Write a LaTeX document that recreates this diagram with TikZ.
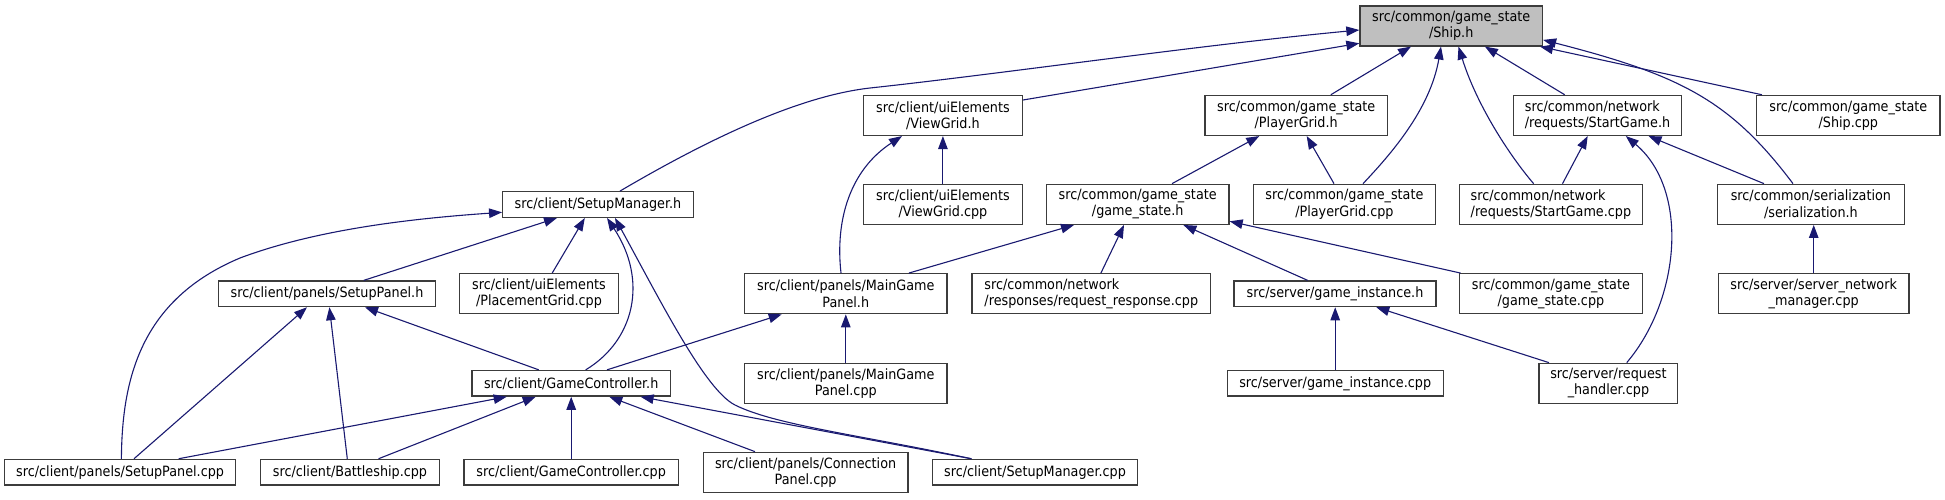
\documentclass[tikz,border=0pt]{standalone}
\usepackage{fontspec}
\setmainfont{DejaVu Sans}[FakeStretch=0.9]
\usetikzlibrary{arrows.meta}
\definecolor{edgec}{RGB}{25,25,112}
\definecolor{rootc}{RGB}{191,191,191}
\definecolor{borderc}{RGB}{60,60,60}
\begin{document}
\begin{tikzpicture}[x=1pt,y=-1pt,
  box/.style={draw=borderc, line width=1.3pt, fill=white, inner sep=0pt, align=center,
    font=\fontsize{14.2pt}{16.2pt}\selectfont},
  one/.style={minimum height=25.6pt},
  two/.style={minimum height=40pt},
  edge/.style={draw=edgec, line width=1.1pt, -{Triangle[length=13pt,width=9.5pt]}}]
\useasboundingbox (0,0) rectangle (1945,499);
% row 0
\node[box, two, fill=rootc, minimum width=182.5pt] (shiph) at (1451.2,25.9) {src/common/game\_state\\/Ship.h};
% row 1
\node[box, two, minimum width=158.9pt] (vgh) at (942.9,115.4) {src/client/uiElements\\/ViewGrid.h};
\node[box, two, minimum width=182.5pt] (pgh) at (1296.2,115.4) {src/common/game\_state\\/PlayerGrid.h};
\node[box, two, minimum width=167.5pt, align=left] (sgh) at (1597.5,115.4) {src/common/network\\/requests/StartGame.h};
\node[box, two, minimum width=183.4pt] (shipcpp) at (1848.3,115.4) {src/common/game\_state\\/Ship.cpp};
% row 2
\node[box, one, minimum width=190.6pt] (smh) at (598,204.5) {src/client/SetupManager.h};
\node[box, two, minimum width=158.9pt] (vgcpp) at (942.9,204.3) {src/client/uiElements\\/ViewGrid.cpp};
\node[box, two, minimum width=182.6pt] (gsh) at (1137.7,204.3) {src/common/game\_state\\/game\_state.h};
\node[box, two, minimum width=181.8pt] (pgcpp) at (1344.4,204.3) {src/common/game\_state\\/PlayerGrid.cpp};
\node[box, two, minimum width=182.6pt, align=left] (sgcpp) at (1550.9,204.3) {src/common/network\\/requests/StartGame.cpp};
\node[box, two, minimum width=186.6pt] (serh) at (1810.9,204.3) {src/common/serialization\\/serialization.h};
% row 3
\node[box, one, minimum width=216.5pt] (sph) at (327,293.8) {src/client/panels/SetupPanel.h};
\node[box, two, minimum width=158.5pt] (pgrcpp) at (539,293.7) {src/client/uiElements\\/PlacementGrid.cpp};
\node[box, two, minimum width=202.3pt] (mgph) at (845.8,293.7) {src/client/panels/MainGame\\Panel.h};
\node[box, two, minimum width=238.8pt, align=left] (rrcpp) at (1091.3,293.7) {src/common/network\\/responses/request\_response.cpp};
\node[box, one, minimum width=202.2pt] (gih) at (1335,293.8) {src/server/game\_instance.h};
\node[box, two, minimum width=182.6pt] (gscpp) at (1550.9,293.7) {src/common/game\_state\\/game\_state.cpp};
\node[box, two, minimum width=190.5pt] (sncpp) at (1813.7,293.7) {src/server/server\_network\\\_manager.cpp};
% row 4
\node[box, one, minimum width=198.7pt] (gch) at (571.2,383.3) {src/client/GameController.h};
\node[box, two, minimum width=202.3pt] (mgpcpp) at (845.8,383.3) {src/client/panels/MainGame\\Panel.cpp};
\node[box, one, minimum width=216pt] (gicpp) at (1335.2,383.3) {src/server/game\_instance.cpp};
\node[box, two, minimum width=138.7pt] (rhcpp) at (1608.4,383.3) {src/server/request\\\_handler.cpp};
% row 5
\node[box, one, minimum width=231.2pt] (spcpp) at (120.1,472.2) {src/client/panels/SetupPanel.cpp};
\node[box, one, minimum width=179.4pt] (bscpp) at (350,472.2) {src/client/Battleship.cpp};
\node[box, one, minimum width=214.7pt] (gccpp) at (571.2,472.2) {src/client/GameController.cpp};
\node[box, two, minimum width=204.9pt] (cpcpp) at (805.6,472.3) {src/client/panels/Connection\\Panel.cpp};
\node[box, one, minimum width=204.9pt] (smcpp) at (1035,472.2) {src/client/SetupManager.cpp};

% edges to Ship.h
\draw[edge] ([xshift=22pt]smh.north) .. controls (690,150) and (790,97) .. (870,88) .. controls (1000,74) and (1200,45) .. ([yshift=-4.1pt]shiph.west);
\draw[edge] ([yshift=15.4pt]vgh.east) -- ([yshift=-17.4pt]shiph.west);
\draw[edge] ([xshift=34.6pt]pgh.north) -- ([xshift=-40.2pt]shiph.south);
\draw[edge] ([xshift=18.6pt]pgcpp.north) .. controls (1390,155) and (1430,110) .. ([xshift=-10.2pt]shiph.south);
\draw[edge] ([xshift=-17.3pt]sgcpp.north) .. controls (1505,150) and (1475,100) .. ([xshift=7.3pt]shiph.south);
\draw[edge] ([xshift=-32.8pt]sgh.north) -- ([xshift=33.7pt]shiph.south);
\draw[edge] ([xshift=-17.9pt]serh.north) .. controls (1730,100) and (1680,75) .. ([yshift=-14pt]shiph.east);
\draw[edge] ([xshift=-86.4pt]shipcpp.north) -- ([xshift=88.8pt]shiph.south);
% ViewGrid.h
\draw[edge] (vgcpp.north) -- (vgh.south);
\draw[edge] ([xshift=-4.8pt]mgph.north) .. controls (835,220) and (850,170) .. ([xshift=-40.9pt]vgh.south);
% PlayerGrid.h
\draw[edge] ([xshift=34.3pt]gsh.north) -- ([xshift=-36.9pt]pgh.south);
\draw[edge] ([xshift=-10.4pt]pgcpp.north) -- ([xshift=10.5pt]pgh.south);
% StartGame.h
\draw[edge] ([xshift=11.6pt]sgcpp.north) -- ([xshift=-9.8pt]sgh.south);
\draw[edge] ([xshift=18.3pt]rhcpp.north) .. controls (1680,300) and (1690,190) .. ([xshift=28.3pt]sgh.south);
\draw[edge] ([xshift=-46.9pt]serh.north) -- ([xshift=51pt]sgh.south);
% serialization.h
\draw[edge] (sncpp.north) -- (sncpp.north |- serh.south);
% game_state.h
\draw[edge] ([xshift=63.1pt]mgph.north) -- ([xshift=-63.7pt]gsh.south);
\draw[edge] ([xshift=9.6pt]rrcpp.north) -- ([xshift=-13.7pt]gsh.south);
\draw[edge] ([xshift=-27.4pt]gih.north) -- ([xshift=45.7pt]gsh.south);
\draw[edge] ([xshift=-90.4pt]gscpp.north) -- ([yshift=-17pt]gsh.east);
% game_instance.h
\draw[edge] (gicpp.north) -- (gicpp.north |- gih.south);
\draw[edge] ([xshift=-59.4pt]rhcpp.north) -- ([xshift=41.3pt]gih.south);
% MainGamePanel.h
\draw[edge] (mgpcpp.north) -- (mgph.south);
\draw[edge] ([xshift=35.8pt]gch.north) -- ([xshift=-64.1pt]mgph.south);
% SetupManager.h
\draw[edge] ([xshift=1.3pt]spcpp.north) .. controls (122,380) and (140,300) .. (240,258) .. controls (320,228) and (420,218) .. ([yshift=-7.8pt]smh.west);
\draw[edge] ([xshift=36.8pt]sph.north) -- ([xshift=-41pt]smh.south);
\draw[edge] ([xshift=13.2pt]pgrcpp.north) -- ([xshift=-13.2pt]smh.south);
\draw[edge] ([xshift=14.5pt]gch.north) .. controls (635,340) and (648,280) .. ([xshift=9pt]smh.south);
\draw[edge] ([xshift=-63.6pt]smcpp.north) .. controls (860,435) and (775,425) .. (735,405) .. controls (705,390) and (660,300) .. ([xshift=17pt]smh.south);
% SetupPanel.h
\draw[edge] ([xshift=13.9pt]spcpp.north) -- ([xshift=-20pt]sph.south);
\draw[edge] ([xshift=-2.7pt]bscpp.north) -- ([xshift=2.4pt]sph.south);
\draw[edge] ([xshift=-32.4pt]gch.north) -- ([xshift=38pt]sph.south);
% GameController.h
\draw[edge] ([xshift=58.5pt]spcpp.north) -- ([xshift=-64.5pt]gch.south);
\draw[edge] ([xshift=28.5pt]bscpp.north) -- ([xshift=-35.5pt]gch.south);
\draw[edge] (gccpp.north) -- (gch.south);
\draw[edge] ([xshift=-50.6pt]cpcpp.north) -- ([xshift=38.1pt]gch.south);
\draw[edge] ([xshift=-63.6pt]smcpp.north) -- ([xshift=69.4pt]gch.south);
\end{tikzpicture}
\end{document}
